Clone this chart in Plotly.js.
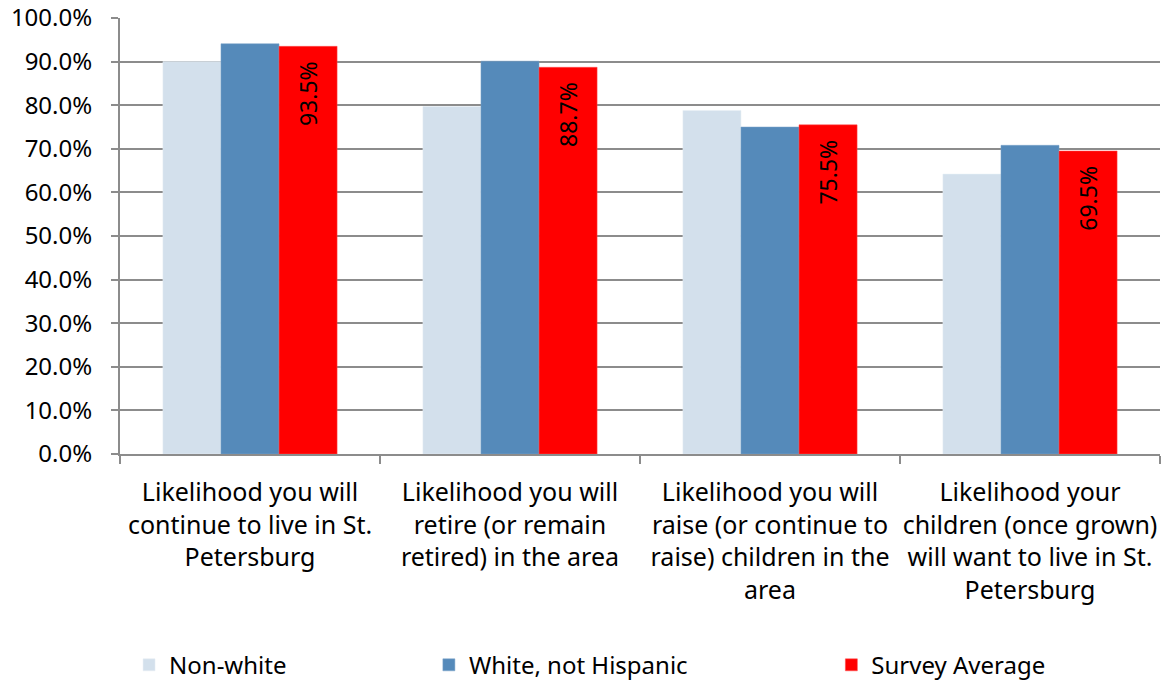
<!DOCTYPE html>
<html>
<head>
<meta charset="utf-8">
<script src="https://cdn.plot.ly/plotly-3.0.1.min.js"></script>
<style>
  html, body { margin: 0; padding: 0; background: #fff; }
  #chart { width: 1161px; height: 683px; }
</style>
</head>
<body>
<div id="chart"></div>
<script>
// Survey questions (category axis)
const categories = [
  'Likelihood you will<br>continue to live in St.<br>Petersburg',
  'Likelihood you will<br>retire (or remain<br>retired) in the area',
  'Likelihood you will<br>raise (or continue to<br>raise) children in the<br>area',
  'Likelihood your<br>children (once grown)<br>will want to live in St.<br>Petersburg'
];

// Shares answering "likely", by group
const nonWhite = [0.900, 0.797, 0.788, 0.642];
const whiteNotHispanic = [0.941, 0.901, 0.750, 0.708];
const surveyAverage = [0.935, 0.887, 0.755, 0.695];

const seriesNames = ['Non-white', 'White, not Hispanic', 'Survey Average'];
const yTicks = [0, 0.1, 0.2, 0.3, 0.4, 0.5, 0.6, 0.7, 0.8, 0.9, 1.0];

const font = 'Noto Sans, Open Sans, sans-serif';
const pad = '\u00a0\u00a0';

const traces = [
  {
    type: 'bar', name: seriesNames[0], x: categories, y: nonWhite,
    marker: { color: '#D3E0EC', line: { color: '#E6EEF5', width: 0.5 } },
    legend: 'legend', hoverinfo: 'skip'
  },
  {
    type: 'bar', name: seriesNames[1], x: categories, y: whiteNotHispanic,
    marker: { color: '#558ABA', line: { color: '#7AA3C8', width: 0.5 } },
    legend: 'legend2', hoverinfo: 'skip'
  },
  {
    type: 'bar', name: seriesNames[2], x: categories, y: surveyAverage,
    marker: { color: '#FF0000', line: { color: '#FF5050', width: 0.5 } },
    text: surveyAverage.map(v => (v * 100).toFixed(1) + '%' + pad),
    texttemplate: '%{text}',
    textposition: 'inside', insidetextanchor: 'end', textangle: -90,
    insidetextfont: { family: font, size: 23, color: '#000' },
    constraintext: 'none',
    legend: 'legend3', hoverinfo: 'skip'
  }
];

const legendBase = {
  orientation: 'h', xref: 'paper', yref: 'container', yanchor: 'middle', y: 0.026,
  font: { family: font, size: 24, color: '#000' }, bgcolor: 'rgba(0,0,0,0)',
  itemwidth: 30, tracegroupgap: 0
};

const layout = {
  width: 1161, height: 683,
  margin: { l: 120, r: 1, t: 18, b: 229 },
  paper_bgcolor: '#fff', plot_bgcolor: '#fff',
  barmode: 'group', bargap: 0.33, bargroupgap: 0,
  font: { family: font, color: '#000' },
  xaxis: {
    type: 'category',
    showline: true, linecolor: '#8C8C8C', linewidth: 2,
    showgrid: false,
    ticks: 'outside', ticklen: 8, tickcolor: '#8C8C8C', tickwidth: 2,
    tickson: 'boundaries',
    tickfont: { family: font, size: 25, color: '#000' },
    ticklabelstandoff: 15,
    tickangle: 0
  },
  yaxis: {
    range: [0, 1.0], tickvals: yTicks, tickformat: '.1%',
    showline: true, linecolor: '#8C8C8C', linewidth: 2,
    showgrid: true, gridcolor: '#8C8C8C', gridwidth: 2,
    ticks: 'outside', ticklen: 7, tickcolor: '#8C8C8C', tickwidth: 2,
    tickfont: { family: font, size: 24, color: '#000' },
    ticklabelstandoff: 14,
    zeroline: false
  },
  legend: Object.assign({}, legendBase, { x: 0.0087, xanchor: 'left' }),
  legend2: Object.assign({}, legendBase, { x: 0.297, xanchor: 'left' }),
  legend3: Object.assign({}, legendBase, { x: 0.684, xanchor: 'left' }),
  showlegend: true
};

Plotly.newPlot('chart', traces, layout, { displayModeBar: false, staticPlot: true });
</script>
</body>
</html>
